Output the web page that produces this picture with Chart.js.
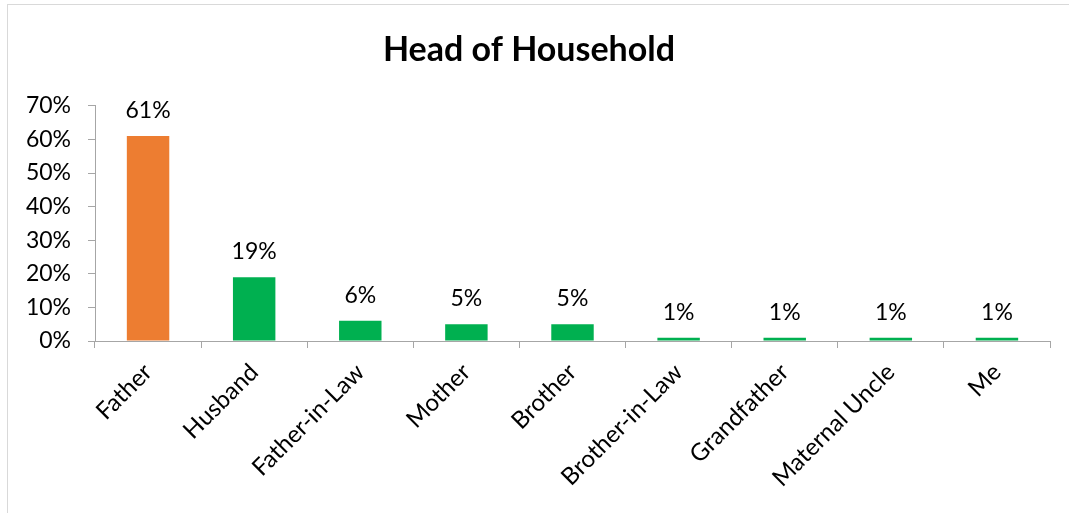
<!DOCTYPE html>
<html>
<head>
<meta charset="utf-8">
<script src="https://cdn.jsdelivr.net/npm/chart.js@4.4.0/dist/chart.umd.min.js"></script>
<style>
  html, body { margin: 0; padding: 0; background: #fff; }
  #frame {
    position: absolute; left: 7px; top: 4px;
    width: 1062px; height: 509px;
    border-left: 1px solid #d9d9d9; border-top: 1px solid #d9d9d9;
  }
</style>
</head>
<body>
<div id="frame"><canvas id="myChart" width="1061" height="508"></canvas></div>
<script>
const categorias = ['Father', 'Husband', 'Father-in-Law', 'Mother', 'Brother',
  'Brother-in-Law', 'Grandfather', 'Maternal Uncle', 'Me'];
const percentuais = [61, 19, 6, 5, 5, 1, 1, 1, 1];
const cores = ['#ED7D31', '#00B050', '#00B050', '#00B050', '#00B050',
  '#00B050', '#00B050', '#00B050', '#00B050'];

const fonte = 'Lato, "Open Sans", sans-serif';

// escreve o valor em cima de cada barra
const rotulos = {
  id: 'rotulos',
  afterDatasetsDraw(chart) {
    const ctx = chart.ctx;
    const meta = chart.getDatasetMeta(0);
    ctx.save();
    ctx.font = '23px ' + fonte;
    ctx.fillStyle = '#000';
    ctx.textAlign = 'center';
    ctx.textBaseline = 'alphabetic';
    meta.data.forEach((barra, i) => {
      ctx.fillText(percentuais[i] + '%', barra.x, barra.y - 18);
    });
    ctx.restore();
  }
};

const ctx = document.getElementById('myChart').getContext('2d');

new Chart(ctx, {
  type: 'bar',
  data: {
    labels: categorias,
    datasets: [{
      label: 'Head of Household',
      data: percentuais,
      backgroundColor: cores,
      categoryPercentage: 1,
      barPercentage: 0.4
    }]
  },
  options: {
    responsive: false,
    animation: false,
    layout: { padding: { left: 0, right: 19, top: 0, bottom: 0 } },
    plugins: {
      legend: { display: false },
      tooltip: { enabled: false },
      title: {
        display: true,
        text: 'Head of Household',
        color: '#000',
        font: { family: fonte, size: 34, weight: 'bold' },
        padding: { top: 25, bottom: 35 }
      }
    },
    scales: {
      x: {
        afterFit: s => { s.height = 172; },
        grid: {
          offset: true, drawOnChartArea: false, drawTicks: true,
          tickLength: 7, color: '#a6a6a6'
        },
        border: { color: '#a6a6a6' },
        ticks: {
          color: '#000', font: { family: fonte, size: 24 },
          maxRotation: 45, minRotation: 45, padding: 10
        }
      },
      y: {
        min: 0, max: 70,
        afterFit: s => { s.width = 87; },
        grid: {
          drawOnChartArea: false, drawTicks: true,
          tickLength: 7, color: '#a6a6a6'
        },
        border: { color: '#a6a6a6' },
        ticks: {
          stepSize: 10, color: '#000', font: { family: fonte, size: 23 },
          padding: 17,
          callback: v => v + '%'
        }
      }
    }
  },
  plugins: [rotulos]
});
</script>
</body>
</html>
